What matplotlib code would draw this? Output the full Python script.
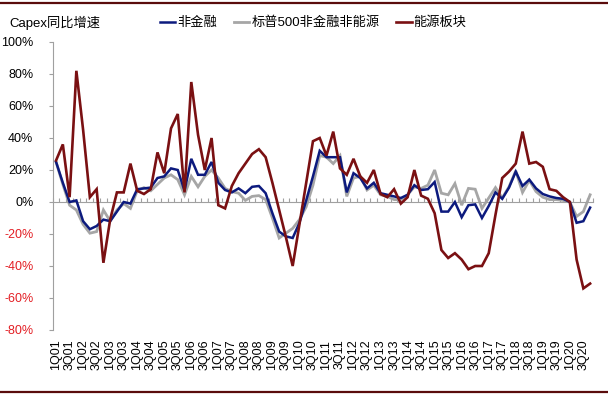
import numpy as np
import matplotlib
matplotlib.use("Agg")
import matplotlib.pyplot as plt
from matplotlib.lines import Line2D

plt.rcParams['font.family'] = ['Liberation Sans', 'Noto Sans CJK SC', 'DejaVu Sans']

years = list(range(1, 21))
quarters = [f"{q}Q{y:02d}" for y in years for q in (1, 2, 3, 4)]

series_names = ["非金融", "标普500非金融非能源", "能源板块"]

non_fin = [25, 12, 0, 1, -12, -17, -15, -11, -12, -6,
           0, -1, 8, 8.5, 9, 15, 16, 21, 20, 7,
           27, 17, 17, 25, 12, 7.5, 6, 8.5, 5.5, 9.5,
           10, 5.5, -7, -18.5, -21.5, -22.5, -13, 1, 16, 32,
           28, 28, 28, 6, 18, 15, 8.5, 12, 5.5, 4.5,
           3.5, 2.5, 4.5, 10.5, 7.5, 8, 12.5, -6, -6, 0,
           -9.5, -2, -1.5, -10, -2.5, 6, 2, 9, 19, 10,
           14, 8.5, 5, 3.5, 2.5, 2, 0, -13, -12, -3.5]

sp500_ex = [25, 11, -2, -5, -14, -19.5, -18.5, -5, -12, -5,
            -1, -4, 7, 9, 7, 11, 15, 17, 14, 4.5,
            16, 9.5, 16, 20, 15, 8.5, 6.5, 5.5, 1, 3.5,
            4, 1.5, -10, -22.5, -19.5, -16.5, -11, -3, 10.5, 29,
            28, 24, 29, 3.5, 15, 16, 7.5, 10.5, 4.5, 3.5,
            1.5, 1.5, 4.5, 9.5, 8.5, 10.5, 20, 5.5, 4.5, 11.5,
            -2, 8.5, 8, -4, 2.5, 9, 2.5, 9.5, 19.5, 6,
            13.5, 6.5, 3, 1.5, 1.5, 1, 0, -9, -6, 4.5]

energy = [26, 36, 3, 82, 45, 3, 8, -38, -11, 6,
          6, 24, 7, 5, 8, 31, 18, 46, 55, 6,
          75, 42, 20, 40, -2, -4, 10, 18, 24, 30,
          33, 28, 12, -5, -22, -40, -14, 12, 38, 40,
          29, 44, 21, 17, 27, 16, 12, 20, 5, 3,
          8, -1, 3, 20, 4, 2, -7, -30, -35, -32,
          -36, -42, -40, -40, -32, -8, 15, 19, 24, 44,
          24, 25, 22, 8, 7, 3, 0, -36, -54, -51]

y_ticks = list(range(-80, 101, 20))

W, H = 608, 398
fig = plt.figure(figsize=(W / 100, H / 100), dpi=100)
ax = fig.add_axes([52.7 / W, 1 - 330 / H, (593.5 - 52.7) / W, (330 - 42) / H])

x = np.arange(len(quarters))
l_gray, = ax.plot(x, sp500_ex, color='#A6A6A6', lw=2.0, zorder=2, solid_joinstyle='miter')
l_blue, = ax.plot(x, non_fin, color='#0C1A7E', lw=1.8, zorder=3, solid_joinstyle='miter')
l_red, = ax.plot(x, energy, color='#7A1012', lw=1.9, zorder=4, solid_joinstyle='miter')

ax.set_xlim(-0.5, len(quarters) - 0.5)
ax.set_ylim(-80, 100)

axis_gray = '#A0A0A0'
ax.set_yticks(y_ticks)
ax.set_yticklabels([f"{v}%" for v in y_ticks], fontsize=9)
for lab, v in zip(ax.get_yticklabels(), y_ticks):
    lab.set_color('#E31E24' if v < 0 else '#000000')
ax.tick_params(axis='y', direction='out', length=3, width=0.8, color=axis_gray, pad=11)

for s in ('top', 'right'):
    ax.spines[s].set_visible(False)
ax.spines['left'].set_color(axis_gray)
ax.spines['left'].set_linewidth(0.8)
ax.spines['bottom'].set_position(('data', 0))
ax.spines['bottom'].set_color(axis_gray)
ax.spines['bottom'].set_linewidth(0.8)
ax.set_xticks(np.arange(-0.5, len(quarters), 1))
ax.tick_params(axis='x', direction='in', length=3, width=0.8, color=axis_gray, labelbottom=False)

sec = ax.secondary_xaxis(0.0)
sec.set_xticks(x[::2])
sec.set_xticklabels(quarters[::2], rotation=90, fontsize=9)
sec.tick_params(length=0, pad=7)
sec.spines['bottom'].set_visible(False)

fig.text(9 / W, 1 - 23 / H, "Capex同比增速", fontsize=9.5, va='center', ha='left')

fig.legend([l_blue, l_gray, l_red], series_names, loc='center left',
           bbox_to_anchor=(160 / W, 1 - 23 / H), ncol=3, frameon=False,
           fontsize=9.5, handlelength=1.15, handletextpad=0.15,
           columnspacing=1.3, borderpad=0, borderaxespad=0)

frame_col = '#5A0C0C'
fig.add_artist(Line2D([0, 1], [1 - 3 / H] * 2, transform=fig.transFigure, color=frame_col, lw=1.6))
fig.add_artist(Line2D([0, 1], [1 - 392 / H] * 2, transform=fig.transFigure, color=frame_col, lw=1.6))

fig.savefig("out.png", dpi=100)
